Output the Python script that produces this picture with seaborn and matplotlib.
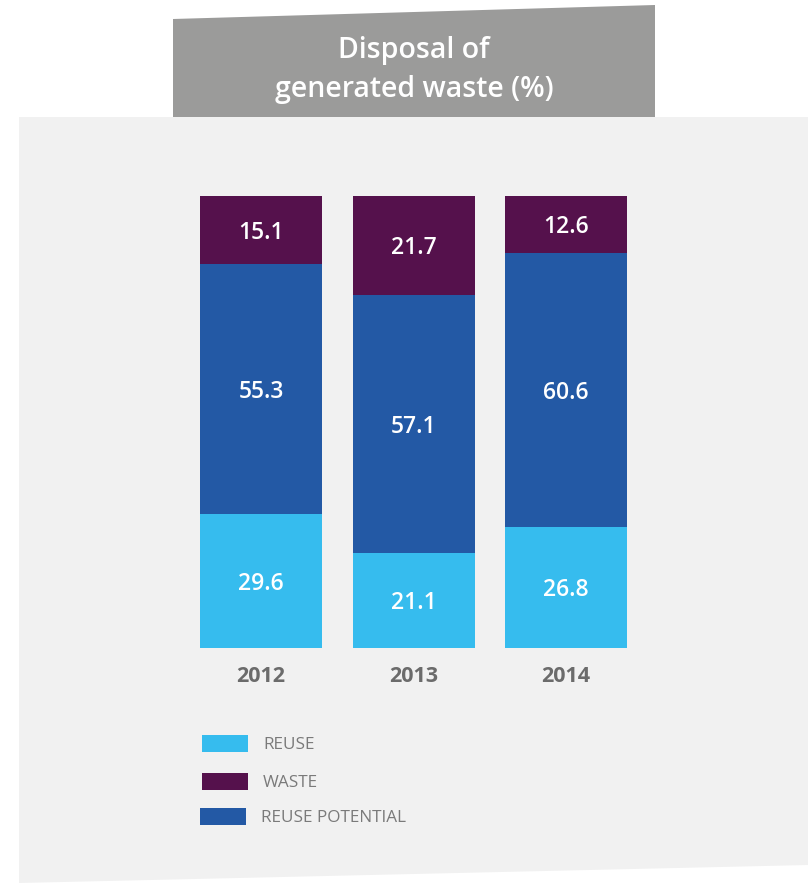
import matplotlib
matplotlib.use("Agg")
import matplotlib.pyplot as plt
from matplotlib.patches import Polygon, Rectangle
from matplotlib.transforms import offset_copy
import seaborn as sns
import pandas as pd
import numpy as np

years = ["2012", "2013", "2014"]
reuse = [29.6, 21.1, 26.8]
reuse_potential = [55.3, 57.1, 60.6]
waste = [15.1, 21.7, 12.6]
legend_labels = ["REUSE", "WASTE", "REUSE POTENTIAL"]
title = "Disposal of\ngenerated waste (%)"

C_REUSE = "#36BCEE"
C_POT = "#2359A5"
C_WASTE = "#55114C"
C_BANNER = "#9B9B9A"
C_PANEL = "#F1F1F1"

sns.set_style("white")
plt.rcParams["font.family"] = ["Open Sans", "DejaVu Sans"]

W, H = 810, 883
fig = plt.figure(figsize=(W / 100, H / 100), dpi=100)
fig.patch.set_facecolor("white")

def fx(x):
    return x / W

def fy(y):
    return 1 - y / H

# panel
panel = Polygon([(fx(19), fy(117)), (fx(808), fy(117)), (fx(808), fy(865)), (fx(19), fy(883))],
                closed=True, facecolor=C_PANEL, edgecolor="none", transform=fig.transFigure, zorder=0)
fig.patches.append(panel)
# banner
banner = Polygon([(fx(173), fy(19)), (fx(655), fy(5)), (fx(655), fy(117)), (fx(173), fy(117))],
                 closed=True, facecolor=C_BANNER, edgecolor="none", transform=fig.transFigure, zorder=0)
fig.patches.append(banner)
fig.text(fx(414), fy(70), title, ha="center", va="center", color="white",
         fontsize=20.5, fontweight="semibold", linespacing=1.42, zorder=3)

df = pd.DataFrame({"year": years, "reuse": reuse, "pot": reuse_potential, "waste": waste})
df["total"] = df["reuse"] + df["pot"] + df["waste"]
df["rp"] = df["reuse"] + df["pot"]

ax = fig.add_axes([184.75 / W, (H - 648) / H, 457.5 / W, 452 / H])
ax.set_zorder(2)
ax.set_facecolor("none")
kw = dict(width=0.8, saturation=1, ax=ax, order=years, linewidth=0, edgecolor="none")
sns.barplot(data=df, x="year", y="total", color=C_WASTE, **kw)
sns.barplot(data=df, x="year", y="rp", color=C_POT, **kw)
sns.barplot(data=df, x="year", y="reuse", color=C_REUSE, **kw)
ax.set_xlim(-0.5, 2.5)
ax.set_ylim(0, df["total"].max())
ax.set_xlabel("")
ax.set_ylabel("")
ax.set_yticks([])
ax.tick_params(axis="x", length=0, pad=13, labelsize=15.5, labelcolor="#6B6B6B")
for lab in ax.get_xticklabels():
    lab.set_fontweight("bold")
for s in ax.spines.values():
    s.set_visible(False)

tr = offset_copy(ax.transData, fig=fig, x=0, y=-3, units="dots")
for i in range(len(years)):
    segs = [(0, reuse[i]), (reuse[i], reuse[i] + reuse_potential[i]),
            (reuse[i] + reuse_potential[i], reuse[i] + reuse_potential[i] + waste[i])]
    vals = [reuse[i], reuse_potential[i], waste[i]]
    for (a, b), v in zip(segs, vals):
        ax.text(i, (a + b) / 2, f"{v:.1f}", ha="center", va="center", color="white",
                fontsize=16.5, fontweight="semibold", transform=tr)

# legend
items = [(C_REUSE, legend_labels[0], 743.5, 202), (C_WASTE, legend_labels[1], 781.5, 202),
         (C_POT, legend_labels[2], 816.5, 200)]
for col, lab, yc, x0 in items:
    fig.patches.append(Rectangle((fx(x0), fy(yc + 8.5)), 46 / W, 17 / H, facecolor=col,
                                 edgecolor="none", transform=fig.transFigure, zorder=1))
    fig.text(fx(x0 + 61), fy(yc + 1.5), lab, ha="left", va="center", color="#7A7A7A", fontsize=12.3,
             zorder=3)

fig.savefig("out.png", dpi=100, facecolor=fig.get_facecolor())
